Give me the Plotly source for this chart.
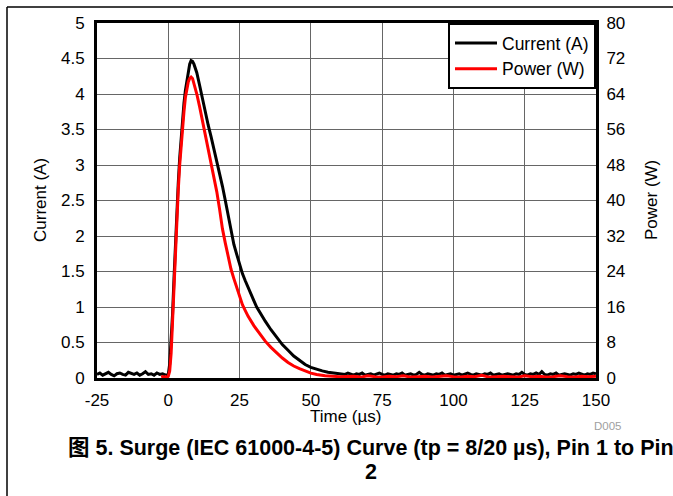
import plotly.graph_objects as go

# ---- data ----
t_base = list(range(-25, 0))
cur_base = [0.05, 0.07, 0.04, 0.06, 0.08, 0.05, 0.03, 0.06, 0.07, 0.05, 0.04, 0.08, 0.06,
            0.05, 0.07, 0.04, 0.06, 0.09, 0.05, 0.06, 0.04, 0.07, 0.05, 0.06, 0.04]

t_pulse_cur = [0, 0.5, 1, 1.5, 2, 2.5, 3, 3.5, 4, 4.5, 5, 5.5, 6, 6.5, 7, 7.5, 8, 8.5, 9,
               10, 11, 12, 13, 14, 15, 16, 17, 18, 19, 20, 21, 22, 23, 24, 25, 26, 27, 28,
               29, 30, 31, 32, 34, 36, 38, 40, 42, 44, 46, 48, 50, 52, 54, 56, 58, 60]
cur_pulse = [0.05, 0.2, 0.5, 0.9, 1.4, 1.9, 2.35, 2.75, 3.1, 3.4, 3.65, 3.87, 4.05, 4.2,
             4.33, 4.42, 4.47, 4.46, 4.42, 4.3, 4.12, 3.92, 3.73, 3.56, 3.4, 3.23, 3.07,
             2.9, 2.7, 2.5, 2.28, 2.05, 1.88, 1.74, 1.6, 1.47, 1.37, 1.27, 1.18, 1.09, 1.0,
             0.93, 0.8, 0.68, 0.57, 0.47, 0.39, 0.31, 0.25, 0.19, 0.15, 0.12, 0.1, 0.08,
             0.07, 0.06]

t_tail_cur = list(range(61, 151))
cur_tail = [0.06, 0.05, 0.07, 0.05, 0.04, 0.06, 0.05, 0.07, 0.04, 0.05,
            0.06, 0.04, 0.05, 0.07, 0.05, 0.04, 0.06, 0.05, 0.04, 0.06,
            0.05, 0.07, 0.04, 0.05, 0.06, 0.04, 0.05, 0.08, 0.05, 0.04,
            0.06, 0.05, 0.04, 0.06, 0.05, 0.07, 0.04, 0.05, 0.06, 0.04,
            0.05, 0.06, 0.04, 0.05, 0.07, 0.05, 0.04, 0.06, 0.05, 0.04,
            0.06, 0.05, 0.07, 0.04, 0.05, 0.06, 0.04, 0.05, 0.06, 0.05,
            0.04, 0.06, 0.05, 0.08, 0.05, 0.04, 0.06, 0.05, 0.07, 0.05,
            0.09, 0.05, 0.04, 0.06, 0.05, 0.07, 0.04, 0.05, 0.06, 0.05,
            0.04, 0.06, 0.05, 0.07, 0.05, 0.04, 0.06, 0.05, 0.07, 0.06]

t_pow = [-2.5, -2, -1.5, -1, -0.5, 0, 0.5, 1, 1.5, 2, 2.5, 3, 3.5, 4, 4.5, 5, 5.5, 6, 6.5,
         7, 7.5, 8, 8.5, 9, 10, 11, 12, 13, 14, 15, 16, 17, 18, 19, 20, 21, 22, 23, 24,
         25, 26, 27, 28, 30, 32, 34, 36, 38, 40, 42, 44, 46, 48, 50, 52, 55, 60]
pow_pulse = [0.2, 0.3, 0.2, 0.3, 0.2, 0.4, 1.6, 5.6, 12.8, 20.8, 28.8, 36.0, 42.4, 48.0,
             52.8, 56.8, 60.0, 63.2, 65.3, 66.7, 67.5, 67.8, 67.5, 66.4, 64.0, 61.1, 57.9,
             55.2, 52.0, 48.8, 45.6, 42.0, 38.0, 33.6, 30.4, 27.5, 24.5, 22.4, 20.3, 18.4,
             16.5, 15.2, 13.9, 11.8, 10.1, 8.3, 6.9, 5.6, 4.5, 3.5, 2.7, 2.1, 1.6, 1.1,
             0.8, 0.5, 0.3]

t_tail_pow = [62.5, 65, 67.5, 70, 72.5, 75, 77.5, 80, 82.5, 85, 87.5, 90, 92.5, 95, 97.5,
              100, 102.5, 105, 107.5, 110, 112.5, 115, 117.5, 120, 122.5, 125, 127.5, 130,
              132.5, 135, 137.5, 140, 142.5, 145, 147.5, 150]
pow_tail = [0.3, 0.4, 0.2, 0.5, 0.3, 0.2, 0.4, 0.3, 0.5, 0.2, 0.3, 0.4, 0.2, 0.3, 0.5, 0.3,
            0.2, 0.4, 0.3, 0.6, 0.2, 0.3, 0.4, 0.3, 0.2, 0.5, 0.3, 0.4, 0.2, 0.3, 0.5, 0.3,
            0.2, 0.4, 0.3, 0.4]

x_ticks = [-25, 0, 25, 50, 75, 100, 125, 150]
x_labels = ["-25", "0", "25", "50", "75", "100", "125", "150"]
y1_ticks = [0, 0.5, 1, 1.5, 2, 2.5, 3, 3.5, 4, 4.5, 5]
y1_labels = ["0", "0.5", "1", "1.5", "2", "2.5", "3", "3.5", "4", "4.5", "5"]
y2_ticks = [0, 8, 16, 24, 32, 40, 48, 56, 64, 72, 80]

# ---- layout geometry (pixels) ----
W, H = 673, 496
L, R, T, B = 97, 596, 23, 378
def px(x):
    return (x - L) / (R - L)
def py(y):
    return (B - y) / (B - T)

FONT = "Liberation Sans, Arial, Noto Sans CJK SC, sans-serif"

fig = go.Figure()
fig.add_trace(go.Scatter(x=t_base + t_pulse_cur + t_tail_cur,
                         y=cur_base + cur_pulse + cur_tail,
                         mode="lines", name="Current (A)",
                         line=dict(color="black", width=3)))
fig.add_trace(go.Scatter(x=t_pow + t_tail_pow, y=pow_pulse + pow_tail,
                         mode="lines", name="Power (W)", yaxis="y2",
                         line=dict(color="#ff0000", width=3)))

fig.update_layout(
    width=W, height=H,
    margin=dict(l=L, r=W - R, t=T, b=H - B, pad=0),
    paper_bgcolor="white", plot_bgcolor="white",
    font=dict(family=FONT, size=17, color="black"),
    showlegend=True,
    legend=dict(x=1, y=1, xanchor="right", yanchor="top",
                bgcolor="white", bordercolor="black", borderwidth=2,
                font=dict(size=17.5), tracegroupgap=0,
                itemwidth=42),
    xaxis=dict(range=[-25, 150], tickvals=x_ticks, ticktext=x_labels, showgrid=True,
               gridcolor="#666666", gridwidth=1, zeroline=False,
               showline=True, linecolor="black", linewidth=3, mirror=True,
               ticks="outside", ticklen=5, tickcolor="rgba(0,0,0,0)"),
    yaxis=dict(range=[0, 5], tickvals=y1_ticks, ticktext=y1_labels, showgrid=True,
               gridcolor="#666666", gridwidth=1, zeroline=False,
               showline=True, linecolor="black", linewidth=3, mirror=True,
               ticks="outside", ticklen=6, tickcolor="rgba(0,0,0,0)"),
    yaxis2=dict(range=[0, 80], tickvals=y2_ticks, overlaying="y", side="right",
                showgrid=False, zeroline=False, showline=False,
                ticks="outside", ticklen=6, tickcolor="rgba(0,0,0,0)"),
)

annotations = [
    dict(text="Current (A)", x=px(40), y=py(200), textangle=-90, font=dict(size=17)),
    dict(text="Power (W)", x=px(651), y=py(200), textangle=-90, font=dict(size=17)),
    dict(text="Time (µs)", x=px(346), y=py(416), font=dict(size=17)),
    dict(text="D005", x=px(608), y=py(426), font=dict(size=11.5, color="#a0a0a0")),
    dict(text="<b>图 5. Surge (IEC 61000-4-5) Curve (tp = 8/20 µs), Pin 1 to Pin</b>",
         x=px(371), y=py(448), font=dict(size=21.5)),
    dict(text="<b>2</b>", x=px(371), y=py(472), font=dict(size=21.5)),
]
for a in annotations:
    a.update(xref="paper", yref="paper", showarrow=False, xanchor="center", yanchor="middle")
fig.update_layout(annotations=annotations)

# page frame lines
fig.add_shape(type="line", xref="paper", yref="paper", x0=px(7), x1=px(673), y0=py(7), y1=py(7),
              line=dict(color="black", width=1.5))
fig.add_shape(type="line", xref="paper", yref="paper", x0=px(7), x1=px(7), y0=py(7), y1=py(496),
              line=dict(color="black", width=1.5))

fig.write_html("out.html")
